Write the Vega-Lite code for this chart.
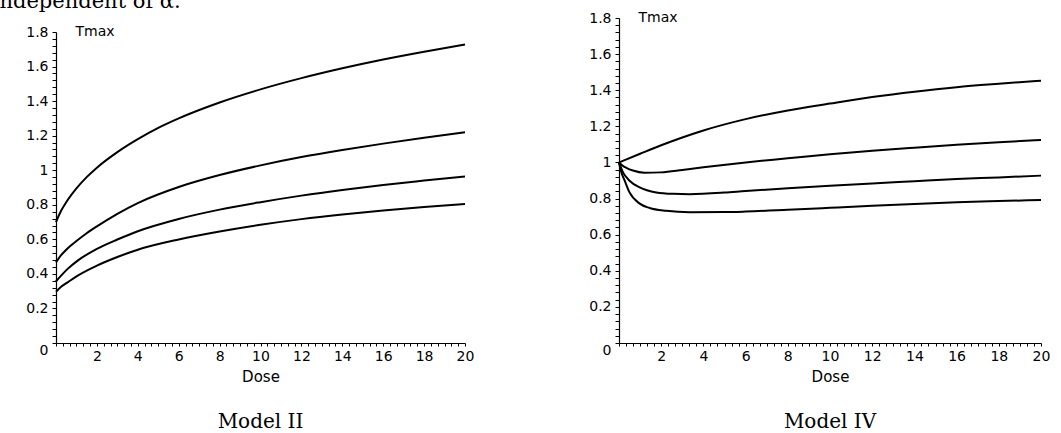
{
  "$schema": "https://vega.github.io/schema/vega-lite/v6.json",
  "background": "white",
  "padding": {"top": -9, "left": -8, "right": 0, "bottom": 0},
  "title": {"text": "independent of α.", "anchor": "start", "frame": "bounds", "dx": -33, "dy": 19, "font": "DejaVu Serif", "fontSize": 21, "fontWeight": "normal", "color": "black", "baseline": "alphabetic", "offset": 0},
  "spacing": 114,
  "datasets": {
    "m2": [
      {"curve": "a", "dose": 0, "tmax": 0.70}, {"curve": "a", "dose": 0.25, "tmax": 0.765}, {"curve": "a", "dose": 0.5, "tmax": 0.815}, {"curve": "a", "dose": 1, "tmax": 0.895}, {"curve": "a", "dose": 1.5, "tmax": 0.96}, {"curve": "a", "dose": 2, "tmax": 1.015}, {"curve": "a", "dose": 3, "tmax": 1.105}, {"curve": "a", "dose": 4, "tmax": 1.18}, {"curve": "a", "dose": 5, "tmax": 1.245}, {"curve": "a", "dose": 6, "tmax": 1.3}, {"curve": "a", "dose": 8, "tmax": 1.392}, {"curve": "a", "dose": 10, "tmax": 1.468}, {"curve": "a", "dose": 12, "tmax": 1.533}, {"curve": "a", "dose": 14, "tmax": 1.59}, {"curve": "a", "dose": 16, "tmax": 1.641}, {"curve": "a", "dose": 18, "tmax": 1.686}, {"curve": "a", "dose": 20, "tmax": 1.728},
      {"curve": "b", "dose": 0, "tmax": 0.467}, {"curve": "b", "dose": 0.25, "tmax": 0.508}, {"curve": "b", "dose": 0.5, "tmax": 0.54}, {"curve": "b", "dose": 1, "tmax": 0.59}, {"curve": "b", "dose": 1.5, "tmax": 0.635}, {"curve": "b", "dose": 2, "tmax": 0.675}, {"curve": "b", "dose": 3, "tmax": 0.748}, {"curve": "b", "dose": 4, "tmax": 0.81}, {"curve": "b", "dose": 6, "tmax": 0.903}, {"curve": "b", "dose": 8, "tmax": 0.972}, {"curve": "b", "dose": 10, "tmax": 1.028}, {"curve": "b", "dose": 12, "tmax": 1.076}, {"curve": "b", "dose": 14, "tmax": 1.117}, {"curve": "b", "dose": 16, "tmax": 1.154}, {"curve": "b", "dose": 18, "tmax": 1.188}, {"curve": "b", "dose": 20, "tmax": 1.22},
      {"curve": "c", "dose": 0, "tmax": 0.357}, {"curve": "c", "dose": 0.25, "tmax": 0.39}, {"curve": "c", "dose": 0.57, "tmax": 0.429}, {"curve": "c", "dose": 1.06, "tmax": 0.477}, {"curve": "c", "dose": 2, "tmax": 0.545}, {"curve": "c", "dose": 3, "tmax": 0.599}, {"curve": "c", "dose": 4, "tmax": 0.647}, {"curve": "c", "dose": 6, "tmax": 0.718}, {"curve": "c", "dose": 8, "tmax": 0.772}, {"curve": "c", "dose": 10, "tmax": 0.815}, {"curve": "c", "dose": 12, "tmax": 0.853}, {"curve": "c", "dose": 14, "tmax": 0.886}, {"curve": "c", "dose": 16, "tmax": 0.915}, {"curve": "c", "dose": 18, "tmax": 0.94}, {"curve": "c", "dose": 20, "tmax": 0.964},
      {"curve": "d", "dose": 0, "tmax": 0.297}, {"curve": "d", "dose": 0.25, "tmax": 0.325}, {"curve": "d", "dose": 0.57, "tmax": 0.351}, {"curve": "d", "dose": 1.06, "tmax": 0.39}, {"curve": "d", "dose": 2, "tmax": 0.448}, {"curve": "d", "dose": 3, "tmax": 0.498}, {"curve": "d", "dose": 4, "tmax": 0.54}, {"curve": "d", "dose": 6, "tmax": 0.599}, {"curve": "d", "dose": 8, "tmax": 0.645}, {"curve": "d", "dose": 10, "tmax": 0.684}, {"curve": "d", "dose": 12, "tmax": 0.717}, {"curve": "d", "dose": 14, "tmax": 0.744}, {"curve": "d", "dose": 16, "tmax": 0.767}, {"curve": "d", "dose": 18, "tmax": 0.787}, {"curve": "d", "dose": 20, "tmax": 0.805}
    ],
    "m4": [
      {"curve": "a", "dose": 0, "tmax": 1.0}, {"curve": "a", "dose": 1, "tmax": 1.048}, {"curve": "a", "dose": 2, "tmax": 1.095}, {"curve": "a", "dose": 3, "tmax": 1.138}, {"curve": "a", "dose": 4, "tmax": 1.177}, {"curve": "a", "dose": 6, "tmax": 1.24}, {"curve": "a", "dose": 8, "tmax": 1.288}, {"curve": "a", "dose": 10, "tmax": 1.326}, {"curve": "a", "dose": 12, "tmax": 1.362}, {"curve": "a", "dose": 14, "tmax": 1.392}, {"curve": "a", "dose": 16, "tmax": 1.417}, {"curve": "a", "dose": 18, "tmax": 1.436}, {"curve": "a", "dose": 20, "tmax": 1.453},
      {"curve": "b", "dose": 0, "tmax": 1.0}, {"curve": "b", "dose": 0.2, "tmax": 0.98}, {"curve": "b", "dose": 0.35, "tmax": 0.97}, {"curve": "b", "dose": 0.66, "tmax": 0.955}, {"curve": "b", "dose": 1.2, "tmax": 0.943}, {"curve": "b", "dose": 2, "tmax": 0.945}, {"curve": "b", "dose": 3, "tmax": 0.958}, {"curve": "b", "dose": 4, "tmax": 0.973}, {"curve": "b", "dose": 6, "tmax": 1.0}, {"curve": "b", "dose": 8, "tmax": 1.023}, {"curve": "b", "dose": 10, "tmax": 1.046}, {"curve": "b", "dose": 12, "tmax": 1.065}, {"curve": "b", "dose": 14, "tmax": 1.082}, {"curve": "b", "dose": 16, "tmax": 1.098}, {"curve": "b", "dose": 18, "tmax": 1.112}, {"curve": "b", "dose": 20, "tmax": 1.124},
      {"curve": "c", "dose": 0, "tmax": 1.0}, {"curve": "c", "dose": 0.19, "tmax": 0.945}, {"curve": "c", "dose": 0.5, "tmax": 0.899}, {"curve": "c", "dose": 0.98, "tmax": 0.862}, {"curve": "c", "dose": 1.77, "tmax": 0.834}, {"curve": "c", "dose": 2.56, "tmax": 0.826}, {"curve": "c", "dose": 3.35, "tmax": 0.824}, {"curve": "c", "dose": 5, "tmax": 0.833}, {"curve": "c", "dose": 6, "tmax": 0.842}, {"curve": "c", "dose": 8, "tmax": 0.857}, {"curve": "c", "dose": 10, "tmax": 0.871}, {"curve": "c", "dose": 12, "tmax": 0.884}, {"curve": "c", "dose": 14, "tmax": 0.896}, {"curve": "c", "dose": 16, "tmax": 0.908}, {"curve": "c", "dose": 18, "tmax": 0.917}, {"curve": "c", "dose": 20, "tmax": 0.927},
      {"curve": "d", "dose": 0, "tmax": 1.0}, {"curve": "d", "dose": 0.1, "tmax": 0.95}, {"curve": "d", "dose": 0.27, "tmax": 0.899}, {"curve": "d", "dose": 0.5, "tmax": 0.834}, {"curve": "d", "dose": 0.98, "tmax": 0.772}, {"curve": "d", "dose": 1.45, "tmax": 0.748}, {"curve": "d", "dose": 2.24, "tmax": 0.732}, {"curve": "d", "dose": 3.35, "tmax": 0.724}, {"curve": "d", "dose": 5, "tmax": 0.725}, {"curve": "d", "dose": 6, "tmax": 0.728}, {"curve": "d", "dose": 8, "tmax": 0.738}, {"curve": "d", "dose": 10, "tmax": 0.749}, {"curve": "d", "dose": 12, "tmax": 0.76}, {"curve": "d", "dose": 14, "tmax": 0.77}, {"curve": "d", "dose": 16, "tmax": 0.779}, {"curve": "d", "dose": 18, "tmax": 0.786}, {"curve": "d", "dose": 20, "tmax": 0.792}
    ]
  },
  "hconcat": [
    {
      "width": 409,
      "height": 325,
      "data": {"name": "m2"},
      "title": {"text": "Model II", "orient": "bottom", "anchor": "middle", "font": "DejaVu Serif", "fontSize": 20, "fontWeight": "normal", "color": "black", "offset": 28},
      "mark": {"type": "line", "interpolate": "monotone", "color": "black", "strokeWidth": 2},
      "encoding": {
        "x": {"field": "dose", "type": "quantitative", "scale": {"domain": [0, 20], "nice": false, "zero": false},
          "axis": {"title": "Dose", "titleFontSize": 15, "titlePadding": 6, "tickSize": 3, "labelPadding": 3, "labelFlush": false, "labelOverlap": false,
            "values": [0,0.3333,0.6667,1,1.3333,1.6667,2,2.3333,2.6667,3,3.3333,3.6667,4,4.3333,4.6667,5,5.3333,5.6667,6,6.3333,6.6667,7,7.3333,7.6667,8,8.3333,8.6667,9,9.3333,9.6667,10,10.3333,10.6667,11,11.3333,11.6667,12,12.3333,12.6667,13,13.3333,13.6667,14,14.3333,14.6667,15,15.3333,15.6667,16,16.3333,16.6667,17,17.3333,17.6667,18,18.3333,18.6667,19,19.3333,19.6667,20],
            "labelExpr": "datum.value > 0.5 && abs(datum.value / 2 - round(datum.value / 2)) < 0.001 ? format(datum.value, 'd') : ''"}},
        "y": {"field": "tmax", "type": "quantitative", "scale": {"domain": [0, 1.8], "nice": false, "range": [325, 14]},
          "axis": {"title": "Tmax", "titleAngle": 0, "titleAlign": "left", "titleBaseline": "bottom", "titleX": 19, "titleY": 20, "titleFontSize": 14, "tickSize": 4, "labelPadding": 4, "labelOverlap": false,
            "labelBaseline": {"condition": {"test": "datum.value == 0", "value": "top"}, "value": "middle"},
            "values": [0,0.04,0.08,0.12,0.16,0.2,0.24,0.28,0.32,0.36,0.4,0.44,0.48,0.52,0.56,0.6,0.64,0.68,0.72,0.76,0.8,0.84,0.88,0.92,0.96,1,1.04,1.08,1.12,1.16,1.2,1.24,1.28,1.32,1.36,1.4,1.44,1.48,1.52,1.56,1.6,1.64,1.68,1.72,1.76,1.8],
            "labelExpr": "abs(datum.value * 5 - round(datum.value * 5)) < 0.001 ? format(datum.value, '~g') : ''"}},
        "detail": {"field": "curve", "type": "nominal"}
      }
    },
    {
      "width": 422,
      "height": 325,
      "data": {"name": "m4"},
      "title": {"text": "Model IV", "orient": "bottom", "anchor": "middle", "font": "DejaVu Serif", "fontSize": 20, "fontWeight": "normal", "color": "black", "offset": 28},
      "mark": {"type": "line", "interpolate": "monotone", "color": "black", "strokeWidth": 2},
      "encoding": {
        "x": {"field": "dose", "type": "quantitative", "scale": {"domain": [0, 20], "nice": false, "zero": false},
          "axis": {"title": "Dose", "titleFontSize": 15, "titlePadding": 6, "tickSize": 3, "labelPadding": 3, "labelFlush": false, "labelOverlap": false,
            "values": [0,0.3333,0.6667,1,1.3333,1.6667,2,2.3333,2.6667,3,3.3333,3.6667,4,4.3333,4.6667,5,5.3333,5.6667,6,6.3333,6.6667,7,7.3333,7.6667,8,8.3333,8.6667,9,9.3333,9.6667,10,10.3333,10.6667,11,11.3333,11.6667,12,12.3333,12.6667,13,13.3333,13.6667,14,14.3333,14.6667,15,15.3333,15.6667,16,16.3333,16.6667,17,17.3333,17.6667,18,18.3333,18.6667,19,19.3333,19.6667,20],
            "labelExpr": "datum.value > 0.5 && abs(datum.value / 2 - round(datum.value / 2)) < 0.001 ? format(datum.value, 'd') : ''"}},
        "y": {"field": "tmax", "type": "quantitative", "scale": {"domain": [0, 1.8], "nice": false},
          "axis": {"title": "Tmax", "titleAngle": 0, "titleAlign": "left", "titleBaseline": "bottom", "titleX": 19, "titleY": 6, "titleFontSize": 14, "tickSize": 4, "labelPadding": 4, "labelOverlap": false,
            "labelBaseline": {"condition": {"test": "datum.value == 0", "value": "top"}, "value": "middle"},
            "values": [0,0.04,0.08,0.12,0.16,0.2,0.24,0.28,0.32,0.36,0.4,0.44,0.48,0.52,0.56,0.6,0.64,0.68,0.72,0.76,0.8,0.84,0.88,0.92,0.96,1,1.04,1.08,1.12,1.16,1.2,1.24,1.28,1.32,1.36,1.4,1.44,1.48,1.52,1.56,1.6,1.64,1.68,1.72,1.76,1.8],
            "labelExpr": "abs(datum.value * 5 - round(datum.value * 5)) < 0.001 ? format(datum.value, '~g') : ''"}},
        "detail": {"field": "curve", "type": "nominal"}
      }
    }
  ],
  "config": {
    "view": {"stroke": null},
    "axis": {"grid": false, "domainColor": "black", "domainWidth": 1.2, "tickColor": "black", "tickWidth": 1, "labelColor": "black", "titleColor": "black", "labelFont": "DejaVu Sans", "labelFontSize": 14, "titleFont": "DejaVu Sans", "titleFontSize": 14, "titleFontWeight": "normal"}
  }
}
